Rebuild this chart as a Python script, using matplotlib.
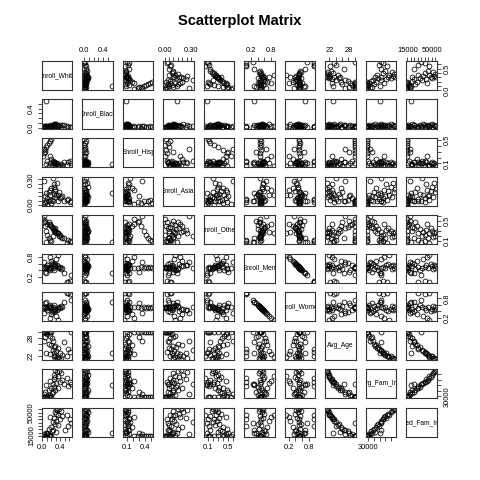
import matplotlib
matplotlib.use("Agg")
import matplotlib.pyplot as plt
import numpy as np

plt.rcParams['font.family'] = ['Liberation Sans', 'DejaVu Sans']

# variable names (diagonal)
names = ['Enroll_White', 'Enroll_Black', 'Enroll_Hisp', 'Enroll_Asian', 'Enroll_Other',
         'Enroll_Men', 'Enroll_Women', 'Avg_Age', 'Avg_Fam_Inc', 'Med_Fam_Inc']

# values (first 8 = low income group stacked at the edges)
enroll_white = [0.03, 0.06, 0.08, 0.10, 0.12, 0.15, 0.18, 0.20,
                0.12, 0.18, 0.22, 0.08, 0.25, 0.15, 0.30, 0.20, 0.35, 0.28,
                0.58, 0.10, 0.24, 0.32, 0.62, 0.40, 0.18, 0.45, 0.26, 0.55,
                0.30, 0.35, 0.28, 0.42, 0.33, 0.38, 0.30, 0.50, 0.65, 0.05]
enroll_black = [0.01, 0.02, 0.00, 0.03, 0.01, 0.02, 0.04, 0.01,
                0.03, 0.05, 0.02, 0.04, 0.06, 0.02, 0.08, 0.01, 0.03, 0.05,
                0.02, 0.57, 0.04, 0.07, 0.01, 0.05, 0.03, 0.06, 0.02, 0.04,
                0.05, 0.03, 0.08, 0.02, 0.06, 0.04, 0.03, 0.05, 0.02, 0.03]
enroll_hisp = [0.22, 0.28, 0.33, 0.38, 0.42, 0.45, 0.49, 0.52,
               0.14, 0.10, 0.08, 0.30, 0.12, 0.06, 0.09, 0.18, 0.07, 0.11,
               0.12, 0.09, 0.15, 0.10, 0.14, 0.06, 0.22, 0.08, 0.13, 0.07,
               0.10, 0.05, 0.12, 0.09, 0.11, 0.06, 0.08, 0.13, 0.10, 0.35]
enroll_asian = [0.01, 0.03, 0.02, 0.05, 0.00, 0.04, 0.06, 0.02,
                0.08, 0.12, 0.06, 0.10, 0.04, 0.15, 0.09, 0.20, 0.05, 0.13,
                0.07, 0.14, 0.32, 0.11, 0.03, 0.08, 0.18, 0.10, 0.24, 0.06,
                0.16, 0.12, 0.21, 0.09, 0.26, 0.15, 0.19, 0.05, 0.04, 0.28]
enroll_other = [0.55, 0.48, 0.40, 0.30, 0.22, 0.15, 0.12, 0.10,
                0.45, 0.42, 0.38, 0.50, 0.35, 0.48, 0.30, 0.40, 0.25, 0.33,
                0.12, 0.08, 0.20, 0.28, 0.10, 0.22, 0.45, 0.15, 0.32, 0.05,
                0.36, 0.26, 0.30, 0.18, 0.25, 0.20, 0.28, 0.15, 0.08, 0.60]
enroll_men = [0.47, 0.48, 0.49, 0.48, 0.50, 0.47, 0.49, 0.48,
              0.55, 0.40, 0.62, 0.35, 0.58, 0.45, 0.52, 0.68, 0.50, 0.42,
              0.04, 0.30, 0.48, 0.75, 0.06, 0.50, 0.80, 0.46, 0.55, 0.05,
              0.60, 0.88, 0.52, 0.44, 0.57, 0.48, 0.53, 0.30, 0.25, 0.65]
enroll_women = [0.53, 0.52, 0.51, 0.52, 0.50, 0.53, 0.51, 0.52,
                0.45, 0.60, 0.38, 0.65, 0.42, 0.55, 0.48, 0.32, 0.50, 0.58,
                0.96, 0.70, 0.52, 0.25, 0.94, 0.50, 0.20, 0.54, 0.45, 0.95,
                0.40, 0.12, 0.48, 0.56, 0.43, 0.52, 0.47, 0.70, 0.75, 0.35]
avg_age = [30.0, 30.0, 30.0, 30.0, 30.0, 30.0, 30.0, 30.0,
           29.2, 28.6, 27.8, 28.2, 26.8, 26.0, 25.2, 25.6, 24.6, 24.9,
           24.2, 23.1, 24.0, 23.6, 23.4, 23.0, 22.8, 22.5, 22.9, 22.2,
           22.0, 21.8, 21.9, 21.5, 21.4, 21.2, 21.1, 26.5, 30.0, 27.0]
avg_fam_inc = [28000, 28000, 28000, 28000, 28000, 28000, 28000, 28000,
               30500, 32000, 35500, 37000, 38500, 40500, 42000, 44000, 45500, 47000,
               48500, 50000, 51500, 53000, 55000, 56500, 58000, 60000, 61500, 63000,
               65000, 67000, 69000, 71000, 73000, 75000, 77000, 52000, 52500, 34000]
med_fam_inc = [15000, 15000, 15000, 15000, 15000, 15000, 15000, 15000,
               17500, 16000, 22000, 19000, 24000, 26000, 21500, 28500, 31000, 33500,
               30000, 20000, 36500, 38000, 41000, 40000, 43500, 45000, 42000, 47000,
               48500, 46500, 50500, 52000, 53500, 55000, 56000, 24000, 35000, 18000]

# axis ticks and the labels R kept
ticks = [[0.0, 0.1, 0.2, 0.3, 0.4, 0.5, 0.6],
         [0.0, 0.1, 0.2, 0.3, 0.4, 0.5],
         [0.1, 0.2, 0.3, 0.4, 0.5],
         [0.00, 0.05, 0.10, 0.15, 0.20, 0.25, 0.30],
         [0.1, 0.2, 0.3, 0.4, 0.5, 0.6],
         [0.2, 0.4, 0.6, 0.8],
         [0.2, 0.4, 0.6, 0.8],
         [22, 24, 26, 28, 30],
         [30000, 40000, 50000, 60000, 70000],
         [15000, 20000, 25000, 30000, 35000, 40000, 45000, 50000, 55000]]
xlabels = [['0.0', '', '', '', '0.4', '', ''],
           ['0.0', '', '', '', '0.4', ''],
           ['0.1', '', '', '0.4', ''],
           ['0.00', '', '', '', '', '', '0.30'],
           ['0.1', '', '', '', '0.5', ''],
           ['0.2', '', '', '0.8'],
           ['0.2', '', '', '0.8'],
           ['22', '', '', '28', ''],
           ['30000', '', '', '', ''],
           ['15000', '', '', '', '', '', '', '50000', '']]
ylabels = [['0.0', '', '', '', '', '0.5', ''],
           ['0.0', '', '', '', '0.4', ''],
           ['0.1', '', '', '', '0.5'],
           ['0.00', '', '', '', '', '', '0.30'],
           ['0.1', '', '', '', '0.5', ''],
           ['0.2', '', '', '0.8'],
           ['0.2', '', '', '0.8'],
           ['22', '', '', '28', ''],
           ['30000', '', '', '', ''],
           ['15000', '', '', '', '', '', '', '50000', '']]

data = [enroll_white, enroll_black, enroll_hisp, enroll_asian, enroll_other,
        enroll_men, enroll_women, avg_age, avg_fam_inc, med_fam_inc]
data = [np.array(d, dtype=float) for d in data]
n = len(data)

def lims(v):
    r = v.max() - v.min()
    return v.min() - 0.04 * r, v.max() + 0.04 * r

fig, axes = plt.subplots(n, n, figsize=(4.8, 4.8), dpi=100)
fig.subplots_adjust(left=0.0875, right=0.910, bottom=0.0896, top=0.873, wspace=0.33, hspace=0.31)

for i in range(n):
    for j in range(n):
        ax = axes[i, j]
        ax.set_xlim(lims(data[j]))
        ax.set_ylim(lims(data[i]))
        if i == j:
            ax.text(0.5, 0.5, names[i], transform=ax.transAxes, ha='center', va='center',
                    fontsize=4.8, clip_on=True)
        else:
            ax.plot(data[j], data[i], 'o', mfc='none', mec='black', ms=3.5, mew=0.55)
        ax.set_xticks([])
        ax.set_yticks([])
        for s in ax.spines.values():
            s.set_linewidth(0.8)
            s.set_color('#333333')
        ax.tick_params(length=3, width=0.6, labelsize=5.4, pad=2, color='#333333')
        # R pairs: alternate outer axes
        if i == 0 and j % 2 == 1:
            ax.set_xticks(ticks[j], xlabels[j])
            ax.xaxis.set_ticks_position('top')
        if i == n - 1 and j % 2 == 0:
            ax.set_xticks(ticks[j], xlabels[j])
            ax.xaxis.set_ticks_position('bottom')
        if j == 0 and i % 2 == 1:
            ax.set_yticks(ticks[i], ylabels[i], rotation=90, va='center')
            ax.yaxis.set_ticks_position('left')
        if j == n - 1 and i % 2 == 0:
            ax.set_yticks(ticks[i], ylabels[i], rotation=90, va='center')
            ax.yaxis.set_ticks_position('right')

fig.suptitle('Scatterplot Matrix', fontsize=10.5, fontweight='bold', y=0.97)
fig.savefig('out.png', dpi=100)
